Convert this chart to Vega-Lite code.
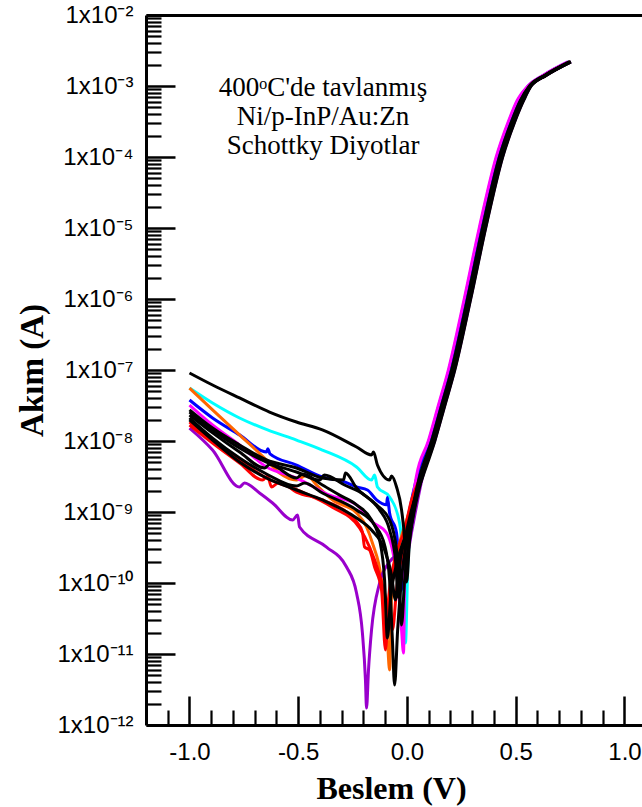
{
"$schema": "https://vega.github.io/schema/vega-lite/v6.json",
"width": 496, "height": 710,
"autosize": {"type": "none"},
"padding": {"left": 146, "top": 15, "right": 0, "bottom": 82},
"background": "white",
"config": {"view": {"stroke": null}},
"datasets": {
"iv": [
{"s":"K1","v":-1,"i":9.08e-8},{"s":"K1","v":-0.894,"i":6.15e-8},{"s":"K1","v":-0.77,"i":4.04e-8},{"s":"K1","v":-0.632,"i":2.56e-8},{"s":"K1","v":-0.508,"i":1.85e-8},{"s":"K1","v":-0.389,"i":1.43e-8},{"s":"K1","v":-0.232,"i":8.22e-9},{"s":"K1","v":-0.163,"i":6.35e-9},{"s":"K1","v":-0.154,"i":7.0e-9},{"s":"K1","v":-0.136,"i":4.59e-9},{"s":"K1","v":-0.08,"i":2.82e-9},{"s":"K1","v":-0.071,"i":3.21e-9},{"s":"K1","v":-0.048,"i":2.25e-9},{"s":"K1","v":-0.025,"i":1.07e-9},{"s":"K1","v":-0.011,"i":4.04e-10},{"s":"K1","v":-0.002,"i":1.03e-10},{"s":"K1","v":0.012,"i":4.0e-10},{"s":"K1","v":0.035,"i":1.2e-9},{"s":"K1","v":0.068,"i":3.16e-9},{"s":"K1","v":0.123,"i":1e-8},{"s":"K1","v":0.169,"i":3.16e-8},{"s":"K1","v":0.215,"i":1e-7},{"s":"K1","v":0.288,"i":1e-6},{"s":"K1","v":0.357,"i":1e-5},{"s":"K1","v":0.435,"i":1e-4},{"s":"K1","v":0.491,"i":3.16e-4},{"s":"K1","v":0.532,"i":6.31e-4},{"s":"K1","v":0.568,"i":1e-3},{"s":"K1","v":0.637,"i":1.41e-3},{"s":"K1","v":0.752,"i":2.19e-3},
{"s":"CYN","v":-1,"i":5.57e-8},{"s":"CYN","v":-0.894,"i":3.43e-8},{"s":"CYN","v":-0.77,"i":2.11e-8},{"s":"CYN","v":-0.641,"i":1.43e-8},{"s":"CYN","v":-0.508,"i":1.03e-8},{"s":"CYN","v":-0.389,"i":7.46e-9},{"s":"CYN","v":-0.232,"i":4.31e-9},{"s":"CYN","v":-0.163,"i":2.82e-9},{"s":"CYN","v":-0.149,"i":3.32e-9},{"s":"CYN","v":-0.136,"i":2.25e-9},{"s":"CYN","v":-0.08,"i":1.63e-9},{"s":"CYN","v":-0.034,"i":7.0e-10},{"s":"CYN","v":-0.016,"i":1.1e-10},{"s":"CYN","v":-0.007,"i":1.43e-11},{"s":"CYN","v":0.003,"i":1.5e-10},{"s":"CYN","v":0.02,"i":8e-10},{"s":"CYN","v":0.054,"i":3.16e-9},{"s":"CYN","v":0.109,"i":1e-8},{"s":"CYN","v":0.155,"i":3.16e-8},{"s":"CYN","v":0.201,"i":1e-7},{"s":"CYN","v":0.274,"i":1e-6},{"s":"CYN","v":0.343,"i":1e-5},{"s":"CYN","v":0.421,"i":1e-4},{"s":"CYN","v":0.477,"i":3.16e-4},{"s":"CYN","v":0.518,"i":6.31e-4},{"s":"CYN","v":0.561,"i":1e-3},{"s":"CYN","v":0.63,"i":1.41e-3},{"s":"CYN","v":0.745,"i":2.19e-3},
{"s":"BLU","v":-1,"i":3.78e-8},{"s":"BLU","v":-0.894,"i":2.11e-8},{"s":"BLU","v":-0.77,"i":1.22e-8},{"s":"BLU","v":-0.646,"i":7.0e-9},{"s":"BLU","v":-0.64,"i":7.8e-9},{"s":"BLU","v":-0.63,"i":6.6e-9},{"s":"BLU","v":-0.508,"i":4.59e-9},{"s":"BLU","v":-0.389,"i":3.11e-9},{"s":"BLU","v":-0.287,"i":2.65e-9},{"s":"BLU","v":-0.232,"i":2.25e-9},{"s":"BLU","v":-0.182,"i":2.04e-9},{"s":"BLU","v":-0.14,"i":1.48e-9},{"s":"BLU","v":-0.094,"i":1.26e-9},{"s":"BLU","v":-0.09,"i":1.6e-9},{"s":"BLU","v":-0.08,"i":9.7e-10},{"s":"BLU","v":-0.048,"i":5.06e-10},{"s":"BLU","v":-0.025,"i":7.96e-11},{"s":"BLU","v":-0.012,"i":4.0e-10},{"s":"BLU","v":0.01,"i":1.0e-9},{"s":"BLU","v":0.046,"i":3.16e-9},{"s":"BLU","v":0.101,"i":1e-8},{"s":"BLU","v":0.147,"i":3.16e-8},{"s":"BLU","v":0.193,"i":1e-7},{"s":"BLU","v":0.266,"i":1e-6},{"s":"BLU","v":0.335,"i":1e-5},{"s":"BLU","v":0.413,"i":1e-4},{"s":"BLU","v":0.469,"i":3.16e-4},{"s":"BLU","v":0.51,"i":6.31e-4},{"s":"BLU","v":0.557,"i":1e-3},{"s":"BLU","v":0.626,"i":1.41e-3},{"s":"BLU","v":0.741,"i":2.19e-3},
{"s":"ORG","v":-1,"i":5.57e-8},{"s":"ORG","v":-0.894,"i":2.74e-8},{"s":"ORG","v":-0.77,"i":1.22e-8},{"s":"ORG","v":-0.646,"i":5.4e-9},{"s":"ORG","v":-0.586,"i":3.54e-9},{"s":"ORG","v":-0.508,"i":2.82e-9},{"s":"ORG","v":-0.46,"i":3.3e-9},{"s":"ORG","v":-0.416,"i":2.4e-9},{"s":"ORG","v":-0.343,"i":1.48e-9},{"s":"ORG","v":-0.232,"i":9.7e-10},{"s":"ORG","v":-0.186,"i":6.15e-10},{"s":"ORG","v":-0.159,"i":3.66e-10},{"s":"ORG","v":-0.117,"i":1.1e-10},{"s":"ORG","v":-0.09,"i":1.57e-11},{"s":"ORG","v":-0.08,"i":5.96e-12},{"s":"ORG","v":-0.07,"i":8e-11},{"s":"ORG","v":-0.04,"i":3e-10},{"s":"ORG","v":0.0,"i":8e-10},{"s":"ORG","v":0.066,"i":3.16e-9},{"s":"ORG","v":0.121,"i":1e-8},{"s":"ORG","v":0.167,"i":3.16e-8},{"s":"ORG","v":0.213,"i":1e-7},{"s":"ORG","v":0.286,"i":1e-6},{"s":"ORG","v":0.355,"i":1e-5},{"s":"ORG","v":0.433,"i":1e-4},{"s":"ORG","v":0.489,"i":3.16e-4},{"s":"ORG","v":0.53,"i":6.31e-4},{"s":"ORG","v":0.567,"i":1e-3},{"s":"ORG","v":0.636,"i":1.41e-3},{"s":"ORG","v":0.751,"i":2.19e-3},
{"s":"MAG","v":-1,"i":3.21e-8},{"s":"MAG","v":-0.894,"i":1.68e-8},{"s":"MAG","v":-0.77,"i":8.79e-9},{"s":"MAG","v":-0.646,"i":4.31e-9},{"s":"MAG","v":-0.508,"i":3.01e-9},{"s":"MAG","v":-0.356,"i":1.73e-9},{"s":"MAG","v":-0.232,"i":1.26e-9},{"s":"MAG","v":-0.159,"i":7.23e-10},{"s":"MAG","v":-0.094,"i":5.06e-10},{"s":"MAG","v":-0.067,"i":2.92e-10},{"s":"MAG","v":-0.039,"i":7.96e-11},{"s":"MAG","v":-0.025,"i":2.18e-11},{"s":"MAG","v":-0.016,"i":1.03e-11},{"s":"MAG","v":-0.01,"i":1.5e-10},{"s":"MAG","v":0.01,"i":6e-10},{"s":"MAG","v":0.043,"i":3.16e-9},{"s":"MAG","v":0.098,"i":1e-8},{"s":"MAG","v":0.144,"i":3.16e-8},{"s":"MAG","v":0.19,"i":1e-7},{"s":"MAG","v":0.263,"i":1e-6},{"s":"MAG","v":0.332,"i":1e-5},{"s":"MAG","v":0.41,"i":1e-4},{"s":"MAG","v":0.466,"i":3.16e-4},{"s":"MAG","v":0.507,"i":6.31e-4},{"s":"MAG","v":0.556,"i":1e-3},{"s":"MAG","v":0.625,"i":1.41e-3},{"s":"MAG","v":0.74,"i":2.19e-3},
{"s":"PUR","v":-1,"i":1.52e-8},{"s":"PUR","v":-0.894,"i":7.46e-9},{"s":"PUR","v":-0.77,"i":2.25e-9},{"s":"PUR","v":-0.747,"i":2.56e-9},{"s":"PUR","v":-0.678,"i":1.85e-9},{"s":"PUR","v":-0.618,"i":1.34e-9},{"s":"PUR","v":-0.526,"i":7.71e-10},{"s":"PUR","v":-0.503,"i":9.08e-10},{"s":"PUR","v":-0.494,"i":6.15e-10},{"s":"PUR","v":-0.37,"i":3.21e-10},{"s":"PUR","v":-0.278,"i":1.68e-10},{"s":"PUR","v":-0.232,"i":7.23e-11},{"s":"PUR","v":-0.205,"i":1.98e-11},{"s":"PUR","v":-0.191,"i":4.31e-12},{"s":"PUR","v":-0.186,"i":1.73e-12},{"s":"PUR","v":-0.177,"i":5.96e-12},{"s":"PUR","v":-0.163,"i":2.18e-11},{"s":"PUR","v":-0.126,"i":1.0e-10},{"s":"PUR","v":-0.08,"i":2.0e-10},{"s":"PUR","v":-0.03,"i":2.6e-10},{"s":"PUR","v":0.005,"i":2.9e-10},{"s":"PUR","v":0.02,"i":5e-10},{"s":"PUR","v":0.072,"i":3.16e-9},{"s":"PUR","v":0.127,"i":1e-8},{"s":"PUR","v":0.173,"i":3.16e-8},{"s":"PUR","v":0.219,"i":1e-7},{"s":"PUR","v":0.292,"i":1e-6},{"s":"PUR","v":0.361,"i":1e-5},{"s":"PUR","v":0.439,"i":1e-4},{"s":"PUR","v":0.495,"i":3.16e-4},{"s":"PUR","v":0.536,"i":6.31e-4},{"s":"PUR","v":0.57,"i":1e-3},{"s":"PUR","v":0.639,"i":1.41e-3},{"s":"PUR","v":0.754,"i":2.19e-3},
{"s":"R1","v":-1,"i":1.68e-8},{"s":"R1","v":-0.894,"i":9.38e-9},{"s":"R1","v":-0.77,"i":4.9e-9},{"s":"R1","v":-0.664,"i":2.82e-9},{"s":"R1","v":-0.641,"i":3.21e-9},{"s":"R1","v":-0.623,"i":2.25e-9},{"s":"R1","v":-0.586,"i":2.65e-9},{"s":"R1","v":-0.508,"i":1.91e-9},{"s":"R1","v":-0.389,"i":1.48e-9},{"s":"R1","v":-0.232,"i":7.23e-10},{"s":"R1","v":-0.205,"i":5.22e-10},{"s":"R1","v":-0.195,"i":3.21e-10},{"s":"R1","v":-0.172,"i":2.92e-10},{"s":"R1","v":-0.149,"i":1.68e-10},{"s":"R1","v":-0.117,"i":7.96e-11},{"s":"R1","v":-0.099,"i":1.14e-11},{"s":"R1","v":-0.085,"i":5.77e-11},{"s":"R1","v":-0.057,"i":2.11e-10},{"s":"R1","v":-0.011,"i":5.57e-10},{"s":"R1","v":0.021,"i":1.48e-9},{"s":"R1","v":0.064,"i":3.16e-9},{"s":"R1","v":0.119,"i":1e-8},{"s":"R1","v":0.165,"i":3.16e-8},{"s":"R1","v":0.211,"i":1e-7},{"s":"R1","v":0.284,"i":1e-6},{"s":"R1","v":0.353,"i":1e-5},{"s":"R1","v":0.431,"i":1e-4},{"s":"R1","v":0.487,"i":3.16e-4},{"s":"R1","v":0.528,"i":6.31e-4},{"s":"R1","v":0.566,"i":1e-3},{"s":"R1","v":0.635,"i":1.41e-3},{"s":"R1","v":0.75,"i":2.19e-3},
{"s":"R2","v":-1,"i":1.85e-8},{"s":"R2","v":-0.894,"i":1.03e-8},{"s":"R2","v":-0.77,"i":5.4e-9},{"s":"R2","v":-0.646,"i":3.01e-9},{"s":"R2","v":-0.503,"i":2.04e-9},{"s":"R2","v":-0.343,"i":1.17e-9},{"s":"R2","v":-0.218,"i":5.96e-10},{"s":"R2","v":-0.172,"i":3.21e-10},{"s":"R2","v":-0.126,"i":1.3e-10},{"s":"R2","v":-0.09,"i":4.9e-11},{"s":"R2","v":-0.067,"i":2.18e-11},{"s":"R2","v":-0.048,"i":7.96e-11},{"s":"R2","v":-0.011,"i":4.04e-10},{"s":"R2","v":0.021,"i":1.26e-9},{"s":"R2","v":0.061,"i":3.16e-9},{"s":"R2","v":0.116,"i":1e-8},{"s":"R2","v":0.162,"i":3.16e-8},{"s":"R2","v":0.208,"i":1e-7},{"s":"R2","v":0.281,"i":1e-6},{"s":"R2","v":0.35,"i":1e-5},{"s":"R2","v":0.428,"i":1e-4},{"s":"R2","v":0.484,"i":3.16e-4},{"s":"R2","v":0.525,"i":6.31e-4},{"s":"R2","v":0.565,"i":1e-3},{"s":"R2","v":0.634,"i":1.41e-3},{"s":"R2","v":0.748,"i":2.19e-3},
{"s":"K2","v":-1,"i":2.74e-8},{"s":"K2","v":-0.894,"i":1.52e-8},{"s":"K2","v":-0.77,"i":8.79e-9},{"s":"K2","v":-0.646,"i":5.4e-9},{"s":"K2","v":-0.508,"i":4.17e-9},{"s":"K2","v":-0.389,"i":3.01e-9},{"s":"K2","v":-0.292,"i":2.82e-9},{"s":"K2","v":-0.283,"i":3.54e-9},{"s":"K2","v":-0.232,"i":2.18e-9},{"s":"K2","v":-0.14,"i":1.26e-9},{"s":"K2","v":-0.08,"i":7.71e-10},{"s":"K2","v":-0.048,"i":2.92e-10},{"s":"K2","v":-0.034,"i":7.96e-11},{"s":"K2","v":-0.025,"i":2.56e-11},{"s":"K2","v":-0.011,"i":1.1e-10},{"s":"K2","v":0.011,"i":4.04e-10},{"s":"K2","v":0.07,"i":3.16e-9},{"s":"K2","v":0.125,"i":1e-8},{"s":"K2","v":0.171,"i":3.16e-8},{"s":"K2","v":0.217,"i":1e-7},{"s":"K2","v":0.29,"i":1e-6},{"s":"K2","v":0.359,"i":1e-5},{"s":"K2","v":0.437,"i":1e-4},{"s":"K2","v":0.493,"i":3.16e-4},{"s":"K2","v":0.534,"i":6.31e-4},{"s":"K2","v":0.569,"i":1e-3},{"s":"K2","v":0.638,"i":1.41e-3},{"s":"K2","v":0.753,"i":2.19e-3},
{"s":"K3","v":-1,"i":2.11e-8},{"s":"K3","v":-0.894,"i":1.1e-8},{"s":"K3","v":-0.77,"i":5.77e-9},{"s":"K3","v":-0.646,"i":3.43e-9},{"s":"K3","v":-0.508,"i":2.32e-9},{"s":"K3","v":-0.471,"i":2.56e-9},{"s":"K3","v":-0.389,"i":1.85e-9},{"s":"K3","v":-0.232,"i":1.07e-9},{"s":"K3","v":-0.149,"i":6.56e-10},{"s":"K3","v":-0.103,"i":3.43e-10},{"s":"K3","v":-0.08,"i":1.1e-10},{"s":"K3","v":-0.067,"i":1.57e-11},{"s":"K3","v":-0.057,"i":3.66e-12},{"s":"K3","v":-0.043,"i":2.18e-11},{"s":"K3","v":-0.021,"i":1.52e-10},{"s":"K3","v":0.011,"i":5.57e-10},{"s":"K3","v":0.065,"i":3.16e-9},{"s":"K3","v":0.12,"i":1e-8},{"s":"K3","v":0.166,"i":3.16e-8},{"s":"K3","v":0.212,"i":1e-7},{"s":"K3","v":0.285,"i":1e-6},{"s":"K3","v":0.354,"i":1e-5},{"s":"K3","v":0.432,"i":1e-4},{"s":"K3","v":0.488,"i":3.16e-4},{"s":"K3","v":0.529,"i":6.31e-4},{"s":"K3","v":0.567,"i":1e-3},{"s":"K3","v":0.636,"i":1.41e-3},{"s":"K3","v":0.75,"i":2.19e-3},
{"s":"K4","v":-1,"i":2.32e-8},{"s":"K4","v":-0.894,"i":1.3e-8},{"s":"K4","v":-0.77,"i":7.0e-9},{"s":"K4","v":-0.655,"i":4.17e-9},{"s":"K4","v":-0.632,"i":4.68e-9},{"s":"K4","v":-0.508,"i":3.01e-9},{"s":"K4","v":-0.48,"i":3.43e-9},{"s":"K4","v":-0.389,"i":2.4e-9},{"s":"K4","v":-0.31,"i":1.73e-9},{"s":"K4","v":-0.232,"i":1.26e-9},{"s":"K4","v":-0.163,"i":7.71e-10},{"s":"K4","v":-0.126,"i":4.04e-10},{"s":"K4","v":-0.103,"i":1.1e-10},{"s":"K4","v":-0.09,"i":1.68e-11},{"s":"K4","v":-0.076,"i":5.77e-11},{"s":"K4","v":-0.043,"i":2.11e-10},{"s":"K4","v":0.002,"i":5.57e-10},{"s":"K4","v":0.061,"i":3.16e-9},{"s":"K4","v":0.116,"i":1e-8},{"s":"K4","v":0.162,"i":3.16e-8},{"s":"K4","v":0.208,"i":1e-7},{"s":"K4","v":0.281,"i":1e-6},{"s":"K4","v":0.35,"i":1e-5},{"s":"K4","v":0.428,"i":1e-4},{"s":"K4","v":0.484,"i":3.16e-4},{"s":"K4","v":0.525,"i":6.31e-4},{"s":"K4","v":0.565,"i":1e-3},{"s":"K4","v":0.634,"i":1.41e-3},{"s":"K4","v":0.748,"i":2.19e-3},
{"s":"K5","v":-1,"i":1.98e-8},{"s":"K5","v":-0.894,"i":1.03e-8},{"s":"K5","v":-0.77,"i":5.06e-9},{"s":"K5","v":-0.646,"i":3.01e-9},{"s":"K5","v":-0.508,"i":2.04e-9},{"s":"K5","v":-0.389,"i":1.48e-9},{"s":"K5","v":-0.232,"i":8.22e-10},{"s":"K5","v":-0.163,"i":5.57e-10},{"s":"K5","v":-0.103,"i":2.92e-10},{"s":"K5","v":-0.071,"i":1.3e-10},{"s":"K5","v":-0.053,"i":5.77e-11},{"s":"K5","v":-0.039,"i":1.52e-10},{"s":"K5","v":-0.011,"i":4.04e-10},{"s":"K5","v":0.021,"i":1.07e-9},{"s":"K5","v":0.073,"i":3.16e-9},{"s":"K5","v":0.128,"i":1e-8},{"s":"K5","v":0.174,"i":3.16e-8},{"s":"K5","v":0.22,"i":1e-7},{"s":"K5","v":0.293,"i":1e-6},{"s":"K5","v":0.362,"i":1e-5},{"s":"K5","v":0.44,"i":1e-4},{"s":"K5","v":0.496,"i":3.16e-4},{"s":"K5","v":0.537,"i":6.31e-4},{"s":"K5","v":0.571,"i":1e-3},{"s":"K5","v":0.64,"i":1.41e-3},{"s":"K5","v":0.754,"i":2.19e-3},
{"s":"K6","v":-1,"i":2.56e-8},{"s":"K6","v":-0.894,"i":1.43e-8},{"s":"K6","v":-0.77,"i":7.96e-9},{"s":"K6","v":-0.646,"i":5.06e-9},{"s":"K6","v":-0.508,"i":3.66e-9},{"s":"K6","v":-0.402,"i":2.82e-9},{"s":"K6","v":-0.38,"i":3.31e-9},{"s":"K6","v":-0.287,"i":2.4e-9},{"s":"K6","v":-0.195,"i":1.73e-9},{"s":"K6","v":-0.126,"i":1.07e-9},{"s":"K6","v":-0.08,"i":5.57e-10},{"s":"K6","v":-0.053,"i":2.11e-10},{"s":"K6","v":-0.04,"i":6.31e-11},{"s":"K6","v":-0.03,"i":2.51e-10},{"s":"K6","v":0.0,"i":5.0e-10},{"s":"K6","v":0.058,"i":3.16e-9},{"s":"K6","v":0.113,"i":1e-8},{"s":"K6","v":0.159,"i":3.16e-8},{"s":"K6","v":0.205,"i":1e-7},{"s":"K6","v":0.278,"i":1e-6},{"s":"K6","v":0.347,"i":1e-5},{"s":"K6","v":0.425,"i":1e-4},{"s":"K6","v":0.481,"i":3.16e-4},{"s":"K6","v":0.522,"i":6.31e-4},{"s":"K6","v":0.563,"i":1e-3},{"s":"K6","v":0.632,"i":1.41e-3},{"s":"K6","v":0.747,"i":2.19e-3}
],
"notes": [
{"t":"400ᵒC'de tavlanmış","v":-0.386,"i":9.38e-4},
{"t":"Ni/p-InP/Au:Zn","v":-0.386,"i":3.66e-4},
{"t":"Schottky Diyotlar","v":-0.386,"i":1.43e-4}
]
},
"resolve": {"axis": {"x": "independent", "y": "independent"}},
"layer": [
{
"data": {"name": "iv"},
"transform": [{"filter": "substring(datum.s,0,1) != 'K'"}],
"mark": {"type": "line", "strokeWidth": 3, "interpolate": "monotone"},
"encoding": {
"x": {"field": "v", "type": "quantitative",
 "scale": {"domain": [-1.2, 1.0805], "nice": false, "zero": false},
 "axis": {"orient": "bottom", "values": [-1, -0.5, 0, 0.5, 1],
  "labelExpr": "replace(format(datum.value, '.1f'), '\u2212', '-')",
  "tickSize": -29, "tickWidth": 2.5, "tickColor": "black",
  "domainWidth": 3, "domainColor": "black", "grid": false,
  "labelFont": "Liberation Sans", "labelFontSize": 24, "labelColor": "black",
  "labelPadding": 44, "labelFlush": false, "labelOverlap": false, "labelBound": false,
  "title": "Beslem (V)", "titleFont": "Liberation Serif", "titleFontSize": 32, "titleFontWeight": "bold", "titleColor": "black",
  "titleX": 245, "titleY": 73, "titleBaseline": "alphabetic", "titleAlign": "center"}},
"y": {"field": "i", "type": "quantitative",
 "scale": {"type": "log", "domain": [1e-12, 1e-2], "nice": false},
 "axis": {"orient": "left", "values": [1e-12, 1e-11, 1e-10, 1e-9, 1e-8, 1e-7, 1e-6, 1e-5, 1e-4, 1e-3, 1e-2],
  "labelExpr": "'1x10' + ['\u2070','\u207b\u00b9','\u207b\u00b2','\u207b\u00b3','\u207b\u2074','\u207b\u2075','\u207b\u2076','\u207b\u2077','\u207b\u2078','\u207b\u2079','\u207b\u00b9\u2070','\u207b\u00b9\u00b9','\u207b\u00b9\u00b2'][round(-log(datum.value)/LN10)]",
  "tickSize": -29, "tickWidth": 2.5, "tickColor": "black",
  "domainWidth": 3, "domainColor": "black", "grid": false,
  "labelFont": "Liberation Sans", "labelFontSize": 24, "labelColor": "black",
  "labelPadding": 42, "labelFlush": false, "labelOverlap": false, "labelBound": false,
  "title": "Akım (A)", "titleFont": "Liberation Serif", "titleFontSize": 33, "titleFontWeight": "bold", "titleColor": "black",
  "titleAngle": 270, "titleX": -104, "titleY": 355, "titleBaseline": "alphabetic", "titleAlign": "center"}},
"color": {"field": "s", "type": "nominal",
 "scale": {"domain": ["K1","K2","K3","K4","K5","K6","R1","R2","ORG","BLU","CYN","MAG","PUR"],
  "range": ["#000000","#000000","#000000","#000000","#000000","#000000","#ff0000","#ff0000","#ff6600","#0000ff","#00ffff","#ff00ff","#9900cc"]},
 "legend": null}
}
},
{
"data": {"name": "iv"},
"transform": [{"filter": "substring(datum.s,0,1) == 'K'"}],
"mark": {"type": "line", "strokeWidth": 3, "interpolate": "monotone"},
"encoding": {
"x": {"field": "v", "type": "quantitative",
 "scale": {"domain": [-1.2, 1.0805], "nice": false, "zero": false},
 "axis": {"orient": "bottom", "values": [-1.1, -0.9, -0.8, -0.7, -0.6, -0.4, -0.3, -0.2, -0.1, 0.1, 0.2, 0.3, 0.4, 0.6, 0.7, 0.8, 0.9],
  "labels": false, "tickSize": -15, "tickWidth": 2.2, "tickColor": "black", "domain": false, "grid": false, "title": null}},
"y": {"field": "i", "type": "quantitative",
 "scale": {"type": "log", "domain": [1e-12, 1e-2], "nice": false},
 "axis": {"orient": "left", "values": [2e-12,3e-12,4e-12,5e-12,6e-12,7e-12,8e-12,9e-12,2e-11,3e-11,4e-11,5e-11,6e-11,7e-11,8e-11,9e-11,2e-10,3e-10,4e-10,5e-10,6e-10,7e-10,8e-10,9e-10,2e-9,3e-9,4e-9,5e-9,6e-9,7e-9,8e-9,9e-9,2e-8,3e-8,4e-8,5e-8,6e-8,7e-8,8e-8,9e-8,2e-7,3e-7,4e-7,5e-7,6e-7,7e-7,8e-7,9e-7,2e-6,3e-6,4e-6,5e-6,6e-6,7e-6,8e-6,9e-6,2e-5,3e-5,4e-5,5e-5,6e-5,7e-5,8e-5,9e-5,2e-4,3e-4,4e-4,5e-4,6e-4,7e-4,8e-4,9e-4,2e-3,3e-3,4e-3,5e-3,6e-3,7e-3,8e-3,9e-3],
  "labels": false, "tickSize": -15, "tickWidth": 2.2, "tickColor": "black", "domain": false, "grid": false, "title": null}},
"color": {"field": "s", "type": "nominal",
 "scale": {"domain": ["K1","K2","K3","K4","K5","K6","R1","R2","ORG","BLU","CYN","MAG","PUR"],
  "range": ["#000000","#000000","#000000","#000000","#000000","#000000","#ff0000","#ff0000","#ff6600","#0000ff","#00ffff","#ff00ff","#9900cc"]},
 "legend": null}
}
},
{
"data": {"name": "notes"},
"mark": {"type": "text", "font": "Liberation Serif", "fontSize": 27, "align": "center", "baseline": "middle", "color": "black"},
"encoding": {
"x": {"field": "v", "type": "quantitative",
 "scale": {"domain": [-1.2, 1.0805], "nice": false, "zero": false},
 "axis": {"orient": "top", "domain": true, "domainWidth": 3, "domainColor": "black", "ticks": false, "labels": false, "grid": false, "title": null}},
"y": {"field": "i", "type": "quantitative",
 "scale": {"type": "log", "domain": [1e-12, 1e-2], "nice": false},
 "axis": null},
"text": {"field": "t"}
}
}
]
}
